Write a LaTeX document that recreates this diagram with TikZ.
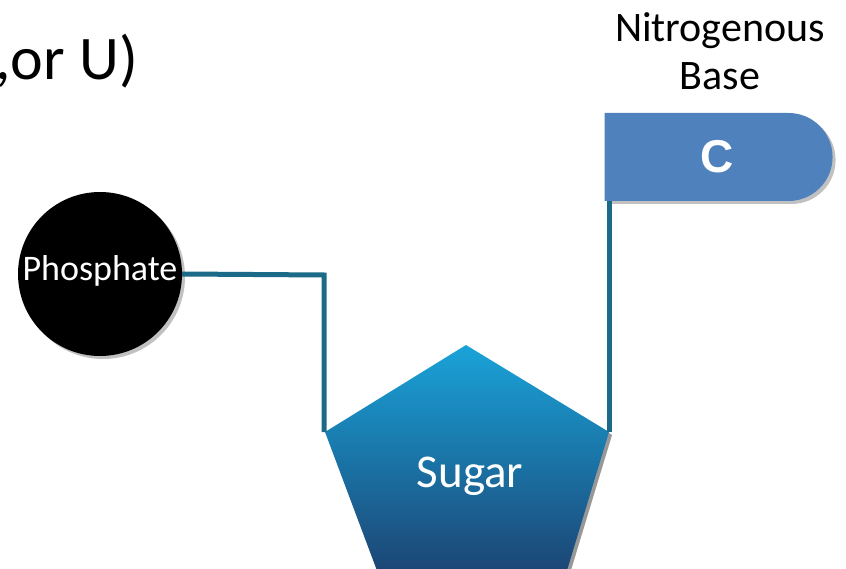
\documentclass[tikz,border=0pt]{standalone}
\usepackage{fontspec}
\setmainfont{Carlito}
\newfontfamily\arialfont{Liberation Sans}
\usetikzlibrary{shapes.misc,shadows}
\definecolor{baseblue}{HTML}{4F81BD}
\definecolor{linkteal}{HTML}{1B6A87}
\definecolor{sugartop}{HTML}{1AA3D9}
\definecolor{sugarbot}{HTML}{1B3A68}
\tikzset{
  link/.style={draw=linkteal,line width=5pt},
  shade/.style={drop shadow={shadow xshift=3pt,shadow yshift=-3pt,opacity=0.35,fill=black!70}},
  label/.style={inner sep=0pt,text=black},
}
\begin{document}
\begin{tikzpicture}[x=1pt,y=-1pt]
\useasboundingbox (0,0) rectangle (846,569);
% top-left clipped title text
\node[label,anchor=base east,font=\fontsize{62}{70}\selectfont] (title) at (138,80) {,or U)};
% nitrogenous base label
\node[label,anchor=north,align=center,font=\fontsize{42}{48}\selectfont] (baselabel) at (720,12) {Nitrogenous\\Base};
% base box
\node[rounded rectangle,rounded rectangle left arc=none,fill=baseblue,minimum width=228pt,minimum height=88pt,inner sep=0pt,shade,
      text=white,font=\arialfont\bfseries\fontsize{46}{46}\selectfont] (base) at (717,157) {C};
% phosphate
\node[circle,fill=black,minimum size=164pt,inner sep=0pt,shade] (phos) at (100,274) {};
\node[anchor=base,text=white,inner sep=0pt,font=\fontsize{36}{36}\selectfont] (phostext) at (100,281) {Phosphate};
% sugar pentagon
\coordinate (ptop) at (466,345);
\coordinate (pright) at (609,432);
\coordinate (pbr) at (558,600);
\coordinate (pbl) at (388,600);
\coordinate (pleft) at (325,432);
\shade[top color=sugartop,bottom color=sugarbot,drop shadow={shadow xshift=3pt,shadow yshift=-3pt,opacity=0.35,fill=black!70}]
  (ptop) -- (pright) -- (pbr) -- (pbl) -- (pleft) -- cycle;
\node[text=white,anchor=base,inner sep=0pt,font=\fontsize{47}{47}\selectfont] (sugar) at (470,487) {Sugar};
% connectors
\coordinate (bend) at (324,275);
\coordinate (btop) at (609,201);
\draw[link] (phos.east) -- (bend) -- (pleft -| bend);
\draw[link] (btop) -- (pright);
\end{tikzpicture}
\end{document}
